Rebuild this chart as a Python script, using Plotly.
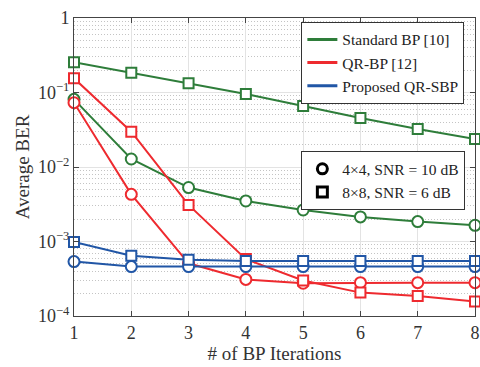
import plotly.graph_objects as go

iters = [1, 2, 3, 4, 5, 6, 7, 8]

std_bp_4x4 = [0.081, 0.0128, 0.0053, 0.0035, 0.00265, 0.00214, 0.00185, 0.00165]
std_bp_8x8 = [0.254, 0.184, 0.133, 0.0955, 0.066, 0.0455, 0.0324, 0.0238]
qr_bp_4x4 = [0.073, 0.0043, 0.00051, 0.00031, 0.000275, 0.00028, 0.00028, 0.00028]
qr_bp_8x8 = [0.155, 0.0298, 0.0031, 0.00058, 0.0003, 0.000206, 0.000186, 0.000156]
qr_sbp_4x4 = [0.000537, 0.00046, 0.00046, 0.00046, 0.00046, 0.00046, 0.00046, 0.00046]
qr_sbp_8x8 = [0.000985, 0.000645, 0.00057, 0.000547, 0.000547, 0.000547, 0.000547, 0.000547]

algo_names = ["Standard BP [10]", "QR-BP [12]", "Proposed QR-SBP"]
config_names = ["4×4, SNR = 10 dB", "8×8, SNR = 6 dB"]
y_tickvals = [1e-4, 1e-3, 1e-2, 1e-1, 1]
y_ticktext = ["10<sup>−4</sup>", "10<sup>−3</sup>", "10<sup>−2</sup>", "10<sup>−1</sup>", "1"]

GREEN = "#2e7d3a"
RED = "#ee2a2f"
BLUE = "#2156a6"
FONT = "Liberation Serif"

fig = go.Figure()

series = [
    (std_bp_4x4, GREEN, "circle"),
    (std_bp_8x8, GREEN, "square"),
    (qr_bp_4x4, RED, "circle"),
    (qr_bp_8x8, RED, "square"),
    (qr_sbp_4x4, BLUE, "circle"),
    (qr_sbp_8x8, BLUE, "square"),
]
for vals, col, sym in series:
    fig.add_trace(go.Scatter(
        x=iters, y=vals, mode="lines+markers",
        line=dict(color=col, width=2),
        marker=dict(symbol=sym, size=11 if sym == "circle" else 10,
                    color="white", line=dict(color=col, width=2)),
        showlegend=False, cliponaxis=False,
    ))

for name, col in zip(algo_names, [GREEN, RED, BLUE]):
    fig.add_trace(go.Scatter(
        x=[None], y=[None], mode="lines", name=name,
        line=dict(color=col, width=3), legend="legend",
    ))
for name, sym in zip(config_names, ["circle-open", "square-open"]):
    fig.add_trace(go.Scatter(
        x=[None], y=[None], mode="markers", name=name,
        marker=dict(symbol=sym, size=10, color="black", line=dict(color="black", width=3)),
        legend="legend2",
    ))

fig.update_layout(
    width=480, height=367,
    margin=dict(l=74, r=0, t=18, b=51),
    paper_bgcolor="white", plot_bgcolor="white",
    font=dict(family=FONT, size=18, color="#333"),
    xaxis=dict(
        range=[1, 8], tickvals=iters, ticks="inside", ticklen=5, tickcolor="#444",
        ticklabeloverflow="allow",
        showline=True, linecolor="#444", linewidth=1, mirror="ticks",
        showgrid=True, gridcolor="#e3e3e3", gridwidth=1, zeroline=False,
        title=dict(text="# of BP Iterations", font=dict(family=FONT, size=19), standoff=3),
        tickfont=dict(family=FONT, size=18),
    ),
    yaxis=dict(
        type="log", range=[-4, 0], tickvals=y_tickvals, ticktext=y_ticktext,
        ticks="inside", ticklen=5, tickcolor="#444",
        showline=True, linecolor="#444", linewidth=1, mirror="ticks",
        showgrid=True, gridcolor="#e3e3e3", gridwidth=1, zeroline=False,
        minor=dict(dtick="D1", showgrid=True, gridcolor="#c4c4c4", griddash="1px,2px", ticks=""),
        title=dict(text="Average BER", font=dict(family=FONT, size=19), standoff=3),
        tickfont=dict(family=FONT, size=18),
    ),
    legend=dict(
        x=0.567, y=0.987, xanchor="left", yanchor="top",
        bgcolor="white", bordercolor="#333", borderwidth=1,
        font=dict(family=FONT, size=15.5, color="#222"),
        itemwidth=30, tracegroupgap=0,
    ),
    legend2=dict(
        x=0.567, y=0.553, xanchor="left", yanchor="top",
        bgcolor="white", bordercolor="#333", borderwidth=1,
        font=dict(family=FONT, size=15.5, color="#222"),
        itemwidth=30,
    ),
)

fig.write_html("out.html")
